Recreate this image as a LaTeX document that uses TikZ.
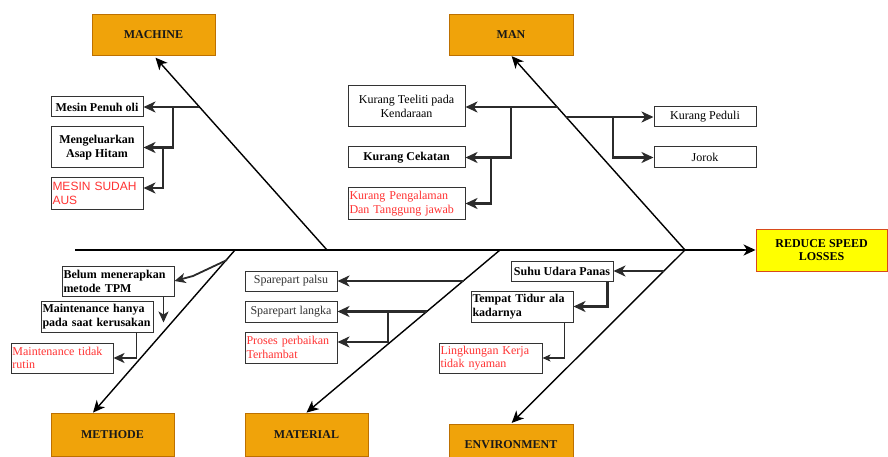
\documentclass[tikz,border=0pt]{standalone}
\usepackage{fontspec}
\setmainfont{Liberation Serif}
\newfontfamily\arialf{Liberation Sans}
\usetikzlibrary{arrows.meta,calc}
\definecolor{catfill}{HTML}{F0A30A}
\definecolor{catdraw}{HTML}{BD7000}
\definecolor{efffill}{HTML}{FFFF00}
\definecolor{effdraw}{HTML}{D84A1B}
\definecolor{boxdraw}{HTML}{333333}
\definecolor{redtxt}{HTML}{FF3333}
\definecolor{subline}{HTML}{2B2B2B}
\tikzset{
  cat/.style={draw=catdraw, fill=catfill, line width=0.8pt, font=\fontsize{12}{14}\selectfont\bfseries, text=black!90, inner sep=0pt},
  effbox/.style={draw=effdraw, fill=efffill, line width=0.9pt, font=\fontsize{12}{14}\selectfont\bfseries, align=center, inner sep=0pt},
  cbox/.style={draw=boxdraw, fill=white, line width=1pt, font=\fontsize{12}{14}\selectfont, inner sep=1.5pt, align=center},
  lbox/.style={draw=boxdraw, fill=white, line width=1pt, font=\fontsize{12}{14}\selectfont, inner sep=1.5pt, align=left},
  bone/.style={line width=1.4pt, -{Stealth[length=12pt,width=11pt,inset=3.5pt]}},
  spine/.style={line width=2pt},
  sub/.style={draw=subline, line width=2.2pt, -{Stealth[length=12pt,width=11pt,inset=3.5pt]}},
  submid/.style={draw=subline, line width=1.8pt, -{Stealth[length=11pt,width=10pt,inset=3pt]}},
  subthin/.style={draw=subline, line width=1.1pt, -{Stealth[length=8pt,width=7pt,inset=2pt]}},
}
\begin{document}
\begin{tikzpicture}[x=1pt,y=-1pt]
\useasboundingbox (0,0) rectangle (888,457);

% categories
\node[cat, minimum width=123, minimum height=41] (machine) at (153.5,34.5) {MACHINE};
\node[cat, minimum width=124, minimum height=41] (man) at (511,34.5) {MAN};
\node[cat, minimum width=123, minimum height=43] (methode) at (112.5,434.5) {METHODE};
\node[cat, minimum width=123, minimum height=43] (material) at (306.5,434.5) {MATERIAL};
\node[cat, minimum width=124, minimum height=41] (environment) at (511,444.5) {ENVIRONMENT};
\node[effbox, minimum width=131, minimum height=42] (effect) at (821.5,250) {REDUCE SPEED\\[-1pt]LOSSES};

% spine
\coordinate (tail) at (75,250);
\coordinate (head) at (685,250);
\draw[spine] (tail) -- (head);
\draw[spine, -{Stealth[length=12pt,width=11pt,inset=3.5pt]}] (head) -- (effect.west);

% bones
\coordinate (s1) at (327,250);
\coordinate (s3) at (235,250);
\coordinate (s4) at (500,250);
\draw[bone, shorten >=3pt] (s1) -- (machine.south);
\draw[bone, shorten >=1pt] (head) -- (man.south);
\draw[bone] (s3) -- ($(methode.north)+(-19.5,0)$);
\draw[bone] (s4) -- (material.north);
\draw[bone, shorten >=1pt] (head) -- (environment.north);

% MACHINE causes
\node[lbox, minimum width=92, minimum height=20, font=\fontsize{12}{14}\selectfont\bfseries] (m1) at (97,107) {Mesin Penuh oli};
\node[cbox, minimum width=92, minimum height=41, font=\fontsize{12}{14}\selectfont\bfseries] (m2) at (97,147.5) {Mengeluarkan\\Asap Hitam};
\node[lbox, minimum width=92, minimum height=31, text width=89, text=redtxt, font=\fontsize{12}{13.5}\selectfont\arialf] (m3) at (97,193.5) {MESIN SUDAH\\AUS};
\coordinate (mb1) at (199,107);
\coordinate (mj1) at (173,107);
\coordinate (mj2) at (163,147.5);
\draw[sub] (mb1) -- (m1.east);
\draw[sub] (mj1) |- (m2.east);
\draw[sub] (mj2) |- ([yshift=5.5pt]m3.east);

% MAN causes
\node[cbox, minimum width=117, minimum height=41] (n1) at (406.5,106.5) {Kurang Teeliti pada\\Kendaraan};
\node[cbox, minimum width=117, minimum height=21, font=\fontsize{12}{14}\selectfont\bfseries] (n2) at (406.5,157.5) {Kurang Cekatan};
\node[lbox, minimum width=117, minimum height=31, text width=114, text=redtxt, font=\fontsize{12}{13.5}\selectfont] (n3) at (406.5,203.5) {Kurang Pengalaman\\Dan Tanggung jawab};
\node[cbox, minimum width=102, minimum height=20] (n4) at (705,117) {Kurang Peduli};
\node[cbox, minimum width=102, minimum height=21] (n5) at (705,157.5) {Jorok};
\coordinate (nb1) at (557.5,107);
\coordinate (nj1) at (511,107);
\coordinate (nj2) at (491,157.5);
\coordinate (nb2) at (566,117);
\coordinate (nj3) at (613,117);
\draw[sub] (nb1) -- (n1.east |- nb1);
\draw[sub] (nj1) |- (n2.east);
\draw[sub] (nj2) |- (n3.east);
\draw[sub] (nb2) -- (n4.west);
\draw[sub] (nj3) |- (n5.west);

% METHODE causes
\node[lbox, minimum width=112, minimum height=30, text width=109, font=\fontsize{12}{14}\selectfont\bfseries] (t1) at (118,281) {Belum menerapkan\\metode TPM};
\node[lbox, minimum width=112, minimum height=31, text width=109, font=\fontsize{12}{14}\selectfont\bfseries] (t2) at (97,316.5) {Maintenance hanya\\pada saat kerusakan};
\node[lbox, minimum width=102, minimum height=30, text width=99, text=redtxt, font=\fontsize{12}{13.5}\selectfont] (t3) at (62,358) {Maintenance tidak\\rutin};
\coordinate (tb1) at (227,260);
\coordinate (tk1) at (193,276);
\draw[submid] (tb1) -- (tk1) -- (t1.east);
\draw[submid] ($(t1.south east)+(-11,0)$) -- ++(0,26);
\draw[submid] ($(t2.south east)+(-17,0)$) |- (t3.east);

% MATERIAL causes
\node[cbox, minimum width=92, minimum height=20, text=black!80] (a1) at (291,281) {Sparepart palsu};
\node[cbox, minimum width=92, minimum height=21, text=black!80] (a2) at (291,311.5) {Sparepart langka};
\node[lbox, minimum width=92, minimum height=31, text width=89, text=redtxt, font=\fontsize{12}{13.5}\selectfont] (a3) at (291,347.5) {Proses perbaikan\\Terhambat};
\coordinate (ab1) at (463.5,281);
\coordinate (ab2) at (427,311.5);
\coordinate (aj) at (388,311.5);
\draw[sub] (ab1) -- (a1.east);
\draw[sub] (ab2) -- (a2.east);
\draw[sub] (aj) |- ([yshift=5.5pt]a3.east);

% ENVIRONMENT causes
\node[cbox, minimum width=102, minimum height=20, font=\fontsize{12}{14}\selectfont\bfseries] (e1) at (562,271) {Suhu Udara Panas};
\node[lbox, minimum width=102, minimum height=31, text width=99, font=\fontsize{12}{14}\selectfont\bfseries] (e2) at (522,306.5) {Tempat Tidur ala\\kadarnya};
\node[lbox, minimum width=103, minimum height=30, text width=100, text=redtxt, font=\fontsize{12}{13.5}\selectfont] (e3) at (490.5,358) {Lingkungan Kerja\\tidak nyaman};
\coordinate (eb1) at (664,271);
\draw[sub] (eb1) -- (e1.east);
\draw[sub] ($(e1.south east)+(-6,0)$) |- (e2.east);
\draw[subthin] ($(e2.south east)+(-9,0)$) |- (e3.east);
\end{tikzpicture}
\end{document}
